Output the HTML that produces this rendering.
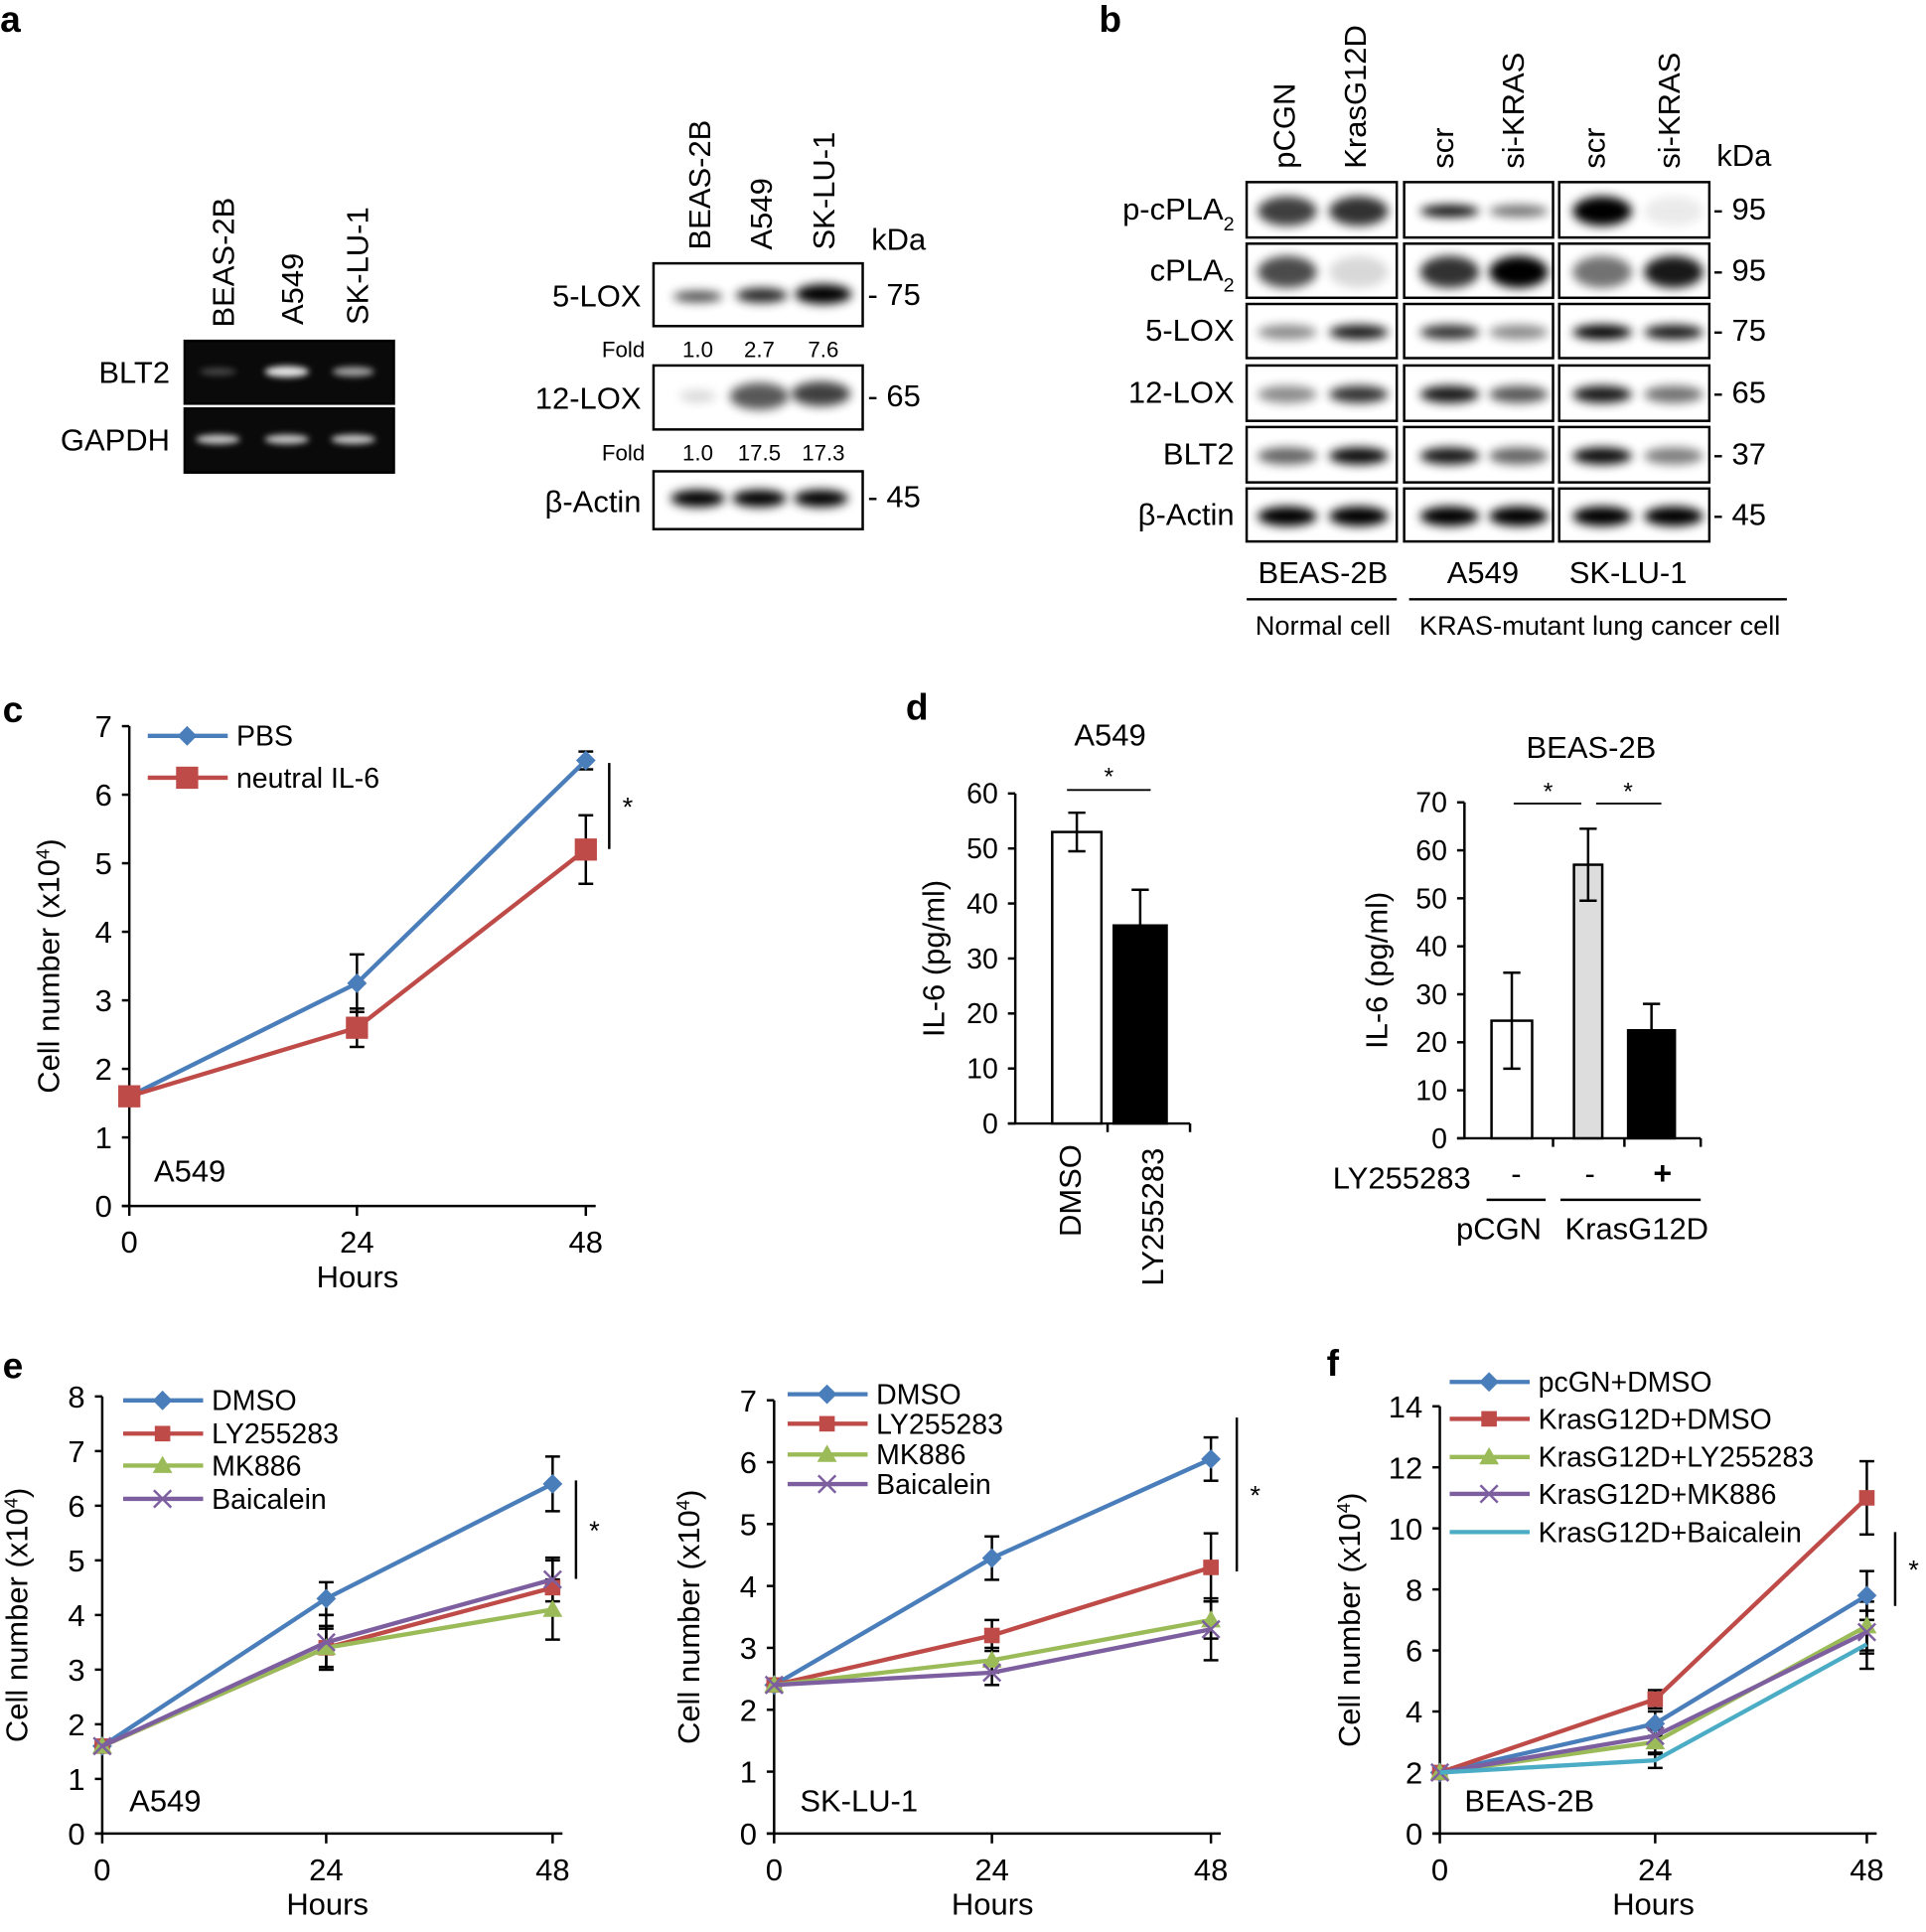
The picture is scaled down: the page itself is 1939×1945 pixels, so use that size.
<!DOCTYPE html>
<html><head><meta charset="utf-8"><style>
html,body{margin:0;padding:0;background:#fff;}
svg{display:block;font-family:"Liberation Sans",Arial,sans-serif;}
</style></head><body>
<svg id="s" width="1939" height="1945" viewBox="0 0 1565 1570" xmlns="http://www.w3.org/2000/svg">
<defs>
<filter id="b1" x="-50%" y="-100%" width="200%" height="300%"><feGaussianBlur stdDeviation="4"/></filter>
<filter id="b2" x="-50%" y="-100%" width="200%" height="300%"><feGaussianBlur stdDeviation="2.5"/></filter>
</defs>
</svg>
<script>
const S=document.getElementById('s');let h='';
function T(x,y,t,sz,a,extra){h+=`<text x="${x}" y="${y}" font-size="${sz||22}" text-anchor="${a||'start'}" ${extra||''}>${t}</text>`;}
function R(x,y,t,sz){h+=`<text transform="translate(${x},${y}) rotate(-90)" font-size="${sz||25}">${t}</text>`;}
function RC(x,y,t,sz){h+=`<text transform="translate(${x},${y}) rotate(-90)" font-size="${sz||25}" text-anchor="middle">${t}</text>`;}
function L(x1,y1,x2,y2,c,w){h+=`<line x1="${x1}" y1="${y1}" x2="${x2}" y2="${y2}" stroke="${c||'#000'}" stroke-width="${w||2}"/>`;}
function box(x,y,w,hh,fill){h+=`<rect x="${x}" y="${y}" width="${w}" height="${hh}" fill="${fill||'#fff'}" stroke="#000" stroke-width="2"/>`;}
function band(cx,cy,w,hh,op,col,f){h+=`<ellipse cx="${cx}" cy="${cy}" rx="${w/2}" ry="${hh/2}" fill="${col||'#000'}" opacity="${op}" filter="url(#${f||'b1'})"/>`;}
T(0,26,'a',30,'start','font-weight="bold"');T(893,26,'b',30,'start','font-weight="bold"');
T(2,587,'c',30,'start','font-weight="bold"');T(736,585,'d',30,'start','font-weight="bold"');
T(2,1120,'e',30,'start','font-weight="bold"');T(1078,1118,'f',30,'start','font-weight="bold"');
R(190,266,'BEAS-2B');R(246,264,'A549');R(299,264,'SK-LU-1');
box(150,277,170,51,'#0a0a0a');box(150,332,170,52,'#0a0a0a');
band(177,302,30,6,0.25,'#fff','b2');band(233,302,36,9,0.9,'#fff','b2');band(287,302,34,8,0.6,'#fff','b2');
[177,233,287].forEach(x=>band(x,357,36,8,0.75,'#fff','b2'));
T(138,311,'BLT2',25,'end');T(138,366,'GAPDH',25,'end');
R(577,203,'BEAS-2B');R(627,203,'A549');R(678,203,'SK-LU-1');T(708,203,'kDa',25);
box(531,214,170,51);box(531,297,170,52);box(531,383,170,47);
band(567,241,40,9,0.7);band(619,240,42,12,0.85);band(669,239,46,16,1);
band(567,322,30,10,0.15);band(617,322,48,22,0.65);band(667,320,48,20,0.75);
[567,617,667].forEach(x=>band(x,405,44,14,1));
T(521,249,'5-LOX',25,'end');T(521,332,'12-LOX',25,'end');T(521,416,'β-Actin',25,'end');
T(524,290,'Fold',18,'end');T(567,290,'1.0',18,'middle');T(617,290,'2.7',18,'middle');T(669,290,'7.6',18,'middle');
T(524,374,'Fold',18,'end');T(567,374,'1.0',18,'middle');T(617,374,'17.5',18,'middle');T(669,374,'17.3',18,'middle');
T(705,248,'- 75',25);T(705,330,'- 65',25);T(705,412,'- 45',25);
[[1052,'pCGN'],[1110,'KrasG12D'],[1181,'scr'],[1238,'si-KRAS'],[1304,'scr'],[1365,'si-KRAS']].forEach(a=>R(a[0],137,a[1]));
T(1395,135,'kDa',25);
const cols=[1013,1141,1267],cw=[122,121,122],rows=[[148,45],[198,44],[247,44],[297,45],[347,45],[397,43]];
const lanes=[[1046,1104],[1178,1234],[1302,1360]];
const ints=[[[.75,.8],[.95,.55],[1,.08]],[[.7,.15],[.8,1],[.55,.9]],[[.45,.9],[.8,.45],[1,.9]],[[.45,.8],[.9,.65],[.9,.55]],[[.6,.95],[.9,.6],[.95,.5]],[[1,1],[1,1],[1,1]]];
rows.forEach((r,ri)=>{cols.forEach((c,ci)=>{box(c,r[0],cw[ci],r[1]);
 lanes[ci].forEach((lx,li)=>{let hh=[24,26,12,14,14,16][ri];if(ri==0&&ci==1)hh=10;
 band(lx,r[0]+r[1]/2+1,48,hh,ints[ri][ci][li]);});});});
['p-cPLA<tspan baseline-shift="sub" font-size="16">2</tspan>','cPLA<tspan baseline-shift="sub" font-size="16">2</tspan>','5-LOX','12-LOX','BLT2','β-Actin'].forEach((t,i)=>T(1003,rows[i][0]+rows[i][1]/2+8,t,25,'end'));
['95','95','75','65','37','45'].forEach((t,i)=>T(1392,rows[i][0]+rows[i][1]/2+8,'- '+t,25));
T(1075,474,'BEAS-2B',25,'middle');T(1205,474,'A549',25,'middle');T(1323,474,'SK-LU-1',25,'middle');
L(1013,487,1135,487);L(1145,487,1452,487);
T(1075,516,'Normal cell',22,'middle');T(1300,516,'KRAS-mutant lung cancer cell',22,'middle');
const BL='#4a7ebb',RD='#be4b48',GR='#9bbb59',PU='#7d5fa0',CY='#4bacc6';
function marker(t,x,y,c,s){s=s||1;
 if(t=='d')h+=`<polygon points="${x},${y-8*s} ${x+8*s},${y} ${x},${y+8*s} ${x-8*s},${y}" fill="${c}"/>`;
 if(t=='s')h+=`<rect x="${x-9*s}" y="${y-9*s}" width="${18*s}" height="${18*s}" fill="${c}"/>`;
 if(t=='t')h+=`<polygon points="${x},${y-8} ${x+8},${y+6} ${x-8},${y+6}" fill="${c}"/>`;
 if(t=='x'){L(x-7,y-7,x+7,y+7,c,2);L(x-7,y+7,x+7,y-7,c,2);}}
function chart(o){const {x0,y0,xs,ppu,ymax,step}=o;
 L(x0,y0,x0,y0-ymax*ppu);L(x0-6,y0,xs[2]+8,y0);
 for(let v=0;v<=ymax;v+=step){const y=y0-v*ppu;L(x0-6,y,x0,y);T(x0-14,y+9,v,25,'end');}
 xs.forEach((x,i)=>{L(x,y0,x,y0+8);T(x,y0+38,['0','24','48'][i],25,'middle');});
 T((x0+xs[2])/2,y0+66,'Hours',25,'middle');
 RC(o.ylx,y0-ymax*ppu/2,'Cell number (x10<tspan baseline-shift="super" font-size="15">4</tspan>)',25);
 o.series.forEach(s=>{const p=s.v.map((v,i)=>[xs[i],y0-v*ppu]);
  (s.e||[]).forEach((e,i)=>{if(!e)return;const y=p[i][1];L(xs[i],y-e*ppu,xs[i],y+e*ppu,'#000',2);L(xs[i]-6,y-e*ppu,xs[i]+6,y-e*ppu);L(xs[i]-6,y+e*ppu,xs[i]+6,y+e*ppu);});});
 o.series.forEach(s=>{const p=s.v.map((v,i)=>[xs[i],y0-v*ppu]);
  h+=`<polyline points="${p.map(q=>q.join(',')).join(' ')}" fill="none" stroke="${s.c}" stroke-width="3.5"/>`;
  p.forEach(q=>marker(s.m,q[0],q[1],s.c,s.ms));});
 o.series.forEach((s,i)=>{const y=o.ly[i];L(o.lx,y,o.lx+65,y,s.c,3.5);marker(s.m,o.lx+32,y,s.c,s.ms);T(o.lx+72,y+8,s.n,23);});
 T(o.cx,o.cy,o.cell,25);
 L(o.sx,o.sy1,o.sx,o.sy2);T(o.sx+15,(o.sy1+o.sy2)/2+8,'*',22,'middle');
}
chart({x0:105,y0:980,xs:[105,290,476],ppu:55.7,ymax:7,step:1,ylx:48,lx:120,ly:[598,632],cx:125,cy:960,cell:'A549',sx:495,sy1:620,sy2:690,
 series:[{n:'PBS',c:BL,m:'d',v:[1.6,3.25,6.5],e:[0,0.42,0.13]},{n:'neutral IL-6',c:RD,m:'s',v:[1.6,2.6,5.2],e:[0,0.28,0.5]}]});
chart({x0:83,y0:1490,xs:[83,265,449],ppu:44.4,ymax:8,step:1,ylx:22,lx:100,ly:[1138,1165,1191,1218],cx:105,cy:1472,cell:'A549',sx:468,sy1:1203,sy2:1283,
 series:[{n:'DMSO',c:BL,m:'d',v:[1.6,4.3,6.4],e:[0,0.3,0.5]},{n:'LY255283',c:RD,m:'s',v:[1.6,3.4,4.5],e:[0,0.4,0.5],ms:.7},{n:'MK886',c:GR,m:'t',v:[1.6,3.4,4.1],e:[0,0.35,0.55]},{n:'Baicalein',c:PU,m:'x',v:[1.6,3.5,4.65],e:[0,0.5,0.4]}]});
chart({x0:629,y0:1490,xs:[629,806,984],ppu:50.3,ymax:7,step:1,ylx:568,lx:640,ly:[1133,1157,1182,1206],cx:650,cy:1472,cell:'SK-LU-1',sx:1005,sy1:1152,sy2:1277,
 series:[{n:'DMSO',c:BL,m:'d',v:[2.4,4.45,6.05],e:[0,0.35,0.35]},{n:'LY255283',c:RD,m:'s',v:[2.4,3.2,4.3],e:[0,0.25,0.55],ms:.7},{n:'MK886',c:GR,m:'t',v:[2.4,2.8,3.45],e:[0,0.2,0.3]},{n:'Baicalein',c:PU,m:'x',v:[2.4,2.6,3.3],e:[0,0.2,0.5]}]});
chart({x0:1170,y0:1490,xs:[1170,1345,1517],ppu:24.8,ymax:14,step:2,ylx:1105,lx:1178,ly:[1123,1153,1184,1214,1245],cx:1190,cy:1472,cell:'BEAS-2B',sx:1540,sy1:1245,sy2:1305,
 series:[{n:'pcGN+DMSO',c:BL,m:'d',v:[2,3.6,7.8],e:[0,0.4,0.8]},{n:'KrasG12D+DMSO',c:RD,m:'s',v:[2,4.4,11],e:[0,0.3,1.2],ms:.7},{n:'KrasG12D+LY255283',c:GR,m:'t',v:[2,3.0,6.8],e:[0,0.4,0.8]},{n:'KrasG12D+MK886',c:PU,m:'x',v:[2,3.2,6.6],e:[0,0.3,0.7]},{n:'KrasG12D+Baicalein',c:CY,m:'n',v:[2,2.4,6.2],e:[0,0.25,0.8]}]});
function bars(o){L(o.x0,o.y0,o.x0,o.y0-o.ymax*o.ppu);L(o.x0-6,o.y0,o.xe,o.y0);
 for(let v=0;v<=o.ymax;v+=10){const y=o.y0-v*o.ppu;L(o.x0-6,y,o.x0,y);T(o.x0-14,y+8,v,23,'end');}
 o.b.forEach(b=>{const y=o.y0-b.v*o.ppu;box(b.x,y,b.w,o.y0-y,b.f);const e=b.e*o.ppu;L(b.x+b.w/2,y-e,b.x+b.w/2,y+e);L(b.x+b.w/2-7,y-e,b.x+b.w/2+7,y-e);L(b.x+b.w/2-7,y+e,b.x+b.w/2+7,y+e);});
 (o.ticks||[]).forEach(x=>L(x,o.y0,x,o.y0+7));
 RC(o.ylx,o.y0-o.ymax*o.ppu/2,'IL-6 (pg/ml)',25);}
bars({x0:825,y0:913,ppu:4.47,ymax:60,xe:967,ylx:767,ticks:[900,967],b:[{x:855,w:40,v:53,e:3.5,f:'#fff'},{x:905,w:43,v:36,e:6.5,f:'#000'}]});
T(902,606,'A549',25,'middle');L(867,642,935,642,'#000',1.5);T(901,638,'*',20,'middle');
R(878,1005,'DMSO',25);R(945,1045,'LY255283',25);
bars({x0:1190,y0:925,ppu:3.9,ymax:70,xe:1382,ylx:1127,ticks:[1262,1320,1382],b:[{x:1212,w:33,v:24.5,e:10,f:'#fff'},{x:1279,w:23,v:57,e:7.5,f:'#ddd'},{x:1323,w:38,v:22.5,e:5.5,f:'#000'}]});
T(1293,616,'BEAS-2B',25,'middle');L(1230,653,1285,653,'#000',1.5);L(1297,653,1350,653,'#000',1.5);T(1258,650,'*',20,'middle');T(1323,650,'*',20,'middle');
T(1083,966,'LY255283',25);T(1232,962,'-',25,'middle');T(1292,962,'-',25,'middle');T(1351,962,'+',26,'middle','font-weight="bold"');
L(1208,975,1256,975);L(1268,975,1382,975);
T(1218,1007,'pCGN',25,'middle');T(1330,1007,'KrasG12D',25,'middle');
S.insertAdjacentHTML('beforeend',h);
</script>
</body></html>
